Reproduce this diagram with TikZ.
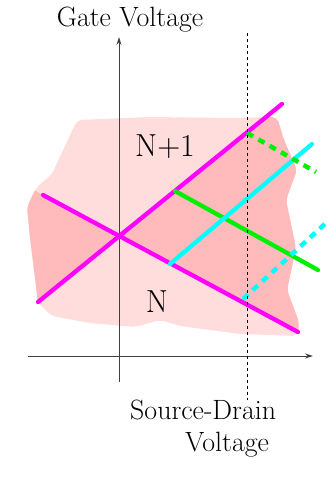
\documentclass[tikz,border=0pt]{standalone}
\usetikzlibrary{arrows.meta, calc}
\definecolor{lightpink}{HTML}{FFDDDD}
\definecolor{darkpink}{HTML}{FFBBBB}
\definecolor{magline}{HTML}{FF00FF}
\definecolor{grnline}{HTML}{00EE00}
\definecolor{cyanline}{HTML}{00FFFF}
\definecolor{axisgray}{HTML}{404040}

\newcommand{\blobpath}{(77,120) -- (150,117) -- (230,118) -- (277,117)
  -- (284,140) -- (297,170) -- (286,200) -- (296,248) -- (287,290)
  -- (299,322) -- (298,336) -- (240,334) -- (180,326) -- (160,320)
  -- (135,327) -- (90,323) -- (52,316) -- (38,303) -- (34,270)
  -- (30,238) -- (27,207) -- (36,188) -- (52,174) -- (64,148) -- cycle}

\begin{document}
\begin{tikzpicture}[x=1bp, y=-1bp,
  >={Stealth[length=8bp, width=5bp]},
  axis/.style={->, line width=0.9bp, draw=axisgray},
  edge/.style={line width=4.3bp, draw=#1, line cap=round},
  excited/.style={line width=4.5bp, draw=#1, dash pattern=on 7bp off 6bp},
  region/.style={font=\fontsize{32}{36}\selectfont, inner sep=0pt},
  axlabel/.style={font=\fontsize{28}{32}\selectfont, align=left, inner sep=0pt},
]
\useasboundingbox (0,0) rectangle (335,494);

% =============================================
% Points of the diagram
% =============================================
\coordinate (O) at (119,236);
\coordinate (riseA) at (38,302);
\coordinate (riseB) at (282,104);
\coordinate (fallA) at (43,195);
\coordinate (fallB) at (298,332);
\coordinate (gA) at (175,191);
\coordinate (gB) at (318,270);
\coordinate (cA) at (170,264);
\coordinate (cB) at (312,144);
\coordinate (dgA) at (247,133);
\coordinate (dgB) at (316,172);
\coordinate (dcA) at (243,299);
\coordinate (dcB) at (327,222);

% Background region
\path[fill=lightpink, rounded corners=5bp] \blobpath;

% Conducting wedges
\begin{scope}
  \clip[rounded corners=5bp] \blobpath;
  \fill[darkpink] (O) -- ($(O)!2!(fallA)$) -- ($(O)!2!(riseA)$) -- cycle;
  \fill[darkpink] (O) -- ($(O)!1.5!(riseB)$) -- ($(O)!1.5!(fallB)$) -- cycle;
\end{scope}

% =============================================
% Axes
% =============================================
\coordinate (ybot) at (119,382);
\coordinate (ytop) at (119,37);
\coordinate (xleft) at (28,356);
\coordinate (xright) at (313,356);
\draw[axis] (ybot) -- (ytop);
\draw[axis] (xleft) -- (xright);

\node[axlabel] (gate) at (130,20) {Gate Voltage};

% =============================================
% Diamond edges and excited lines
% =============================================
\draw[edge=magline] (riseA) -- (riseB);
\draw[edge=magline] (fallA) -- (fallB);
\draw[edge=grnline] (gA) -- (gB);
\draw[edge=cyanline] (cA) -- (cB);
\draw[excited=grnline] (dgA) -- (dgB);
\draw[excited=cyanline] (dcA) -- (dcB);

\node[region, anchor=base] (nplus) at (165,157) {N+1};
\node[region, anchor=base] (nzero) at (157,312) {N};

% Bias line
\coordinate (vtop) at (247,33);
\coordinate (vbot) at (247,400);
\draw[dashed, line width=0.8bp] (vtop) -- (vbot);

\node[axlabel, anchor=base west] (sd) at (130,451)
  {Source-Drain\\\hspace*{55bp}Voltage};

\end{tikzpicture}
\end{document}
